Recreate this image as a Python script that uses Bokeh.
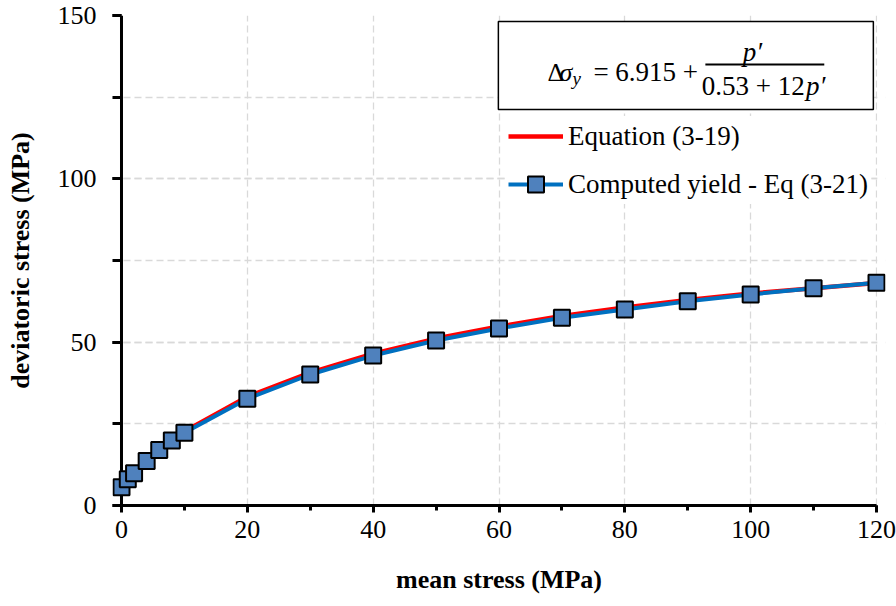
from bokeh.plotting import figure
from bokeh.models import (Range1d, SingleIntervalTicker, Legend, LegendItem,
                          BoxAnnotation, Label, Span)
from bokeh.embed import file_html
from bokeh.resources import INLINE

# ---- data ----
mean_stress = [0, 1, 2, 4, 6, 8, 10, 20, 30, 40, 50, 60, 70, 80, 90, 100, 110, 120]
equation_3_19 = [5.6, 8.1, 10.1, 13.8, 17.2, 20.2, 22.7, 33.3, 40.7, 46.5,
                 51.1, 54.8, 58.0, 60.6, 62.9, 64.9, 66.5, 68.1]
computed_yield = [5.6, 8.0, 9.9, 13.6, 17.0, 19.9, 22.3, 32.7, 40.1, 45.9,
                  50.5, 54.2, 57.5, 60.0, 62.5, 64.6, 66.5, 68.2]

x_label = "mean stress (MPa)"
y_label = "deviatoric stress (MPa)"
series_names = ["Equation (3-19)", "Computed yield - Eq (3-21)"]

SERIF = "Liberation Serif"
X_MIN, X_MAX = 0, 120
PAD = 1.43  # frame padding (data units) so end markers are not clipped

p = figure(width=896, height=606, output_backend="svg", toolbar_location=None,
           x_range=Range1d(X_MIN - PAD, X_MAX + PAD), y_range=Range1d(0, 150),
           min_border_left=112, min_border_right=11, min_border_top=15,
           min_border_bottom=101)
p.outline_line_color = None
p.background_fill_color = "white"
p.border_fill_color = "white"

# ticks
p.xaxis.ticker = SingleIntervalTicker(interval=20, num_minor_ticks=2)
p.yaxis.ticker = SingleIntervalTicker(interval=50, num_minor_ticks=2)
p.xgrid.ticker = p.xaxis[0].ticker
p.ygrid.ticker = p.yaxis[0].ticker

for ax in (p.xaxis[0], p.yaxis[0]):
    ax.axis_line_color = "black"
    ax.axis_line_width = 3
    ax.major_tick_line_color = "black"
    ax.major_tick_line_width = 3
    ax.minor_tick_line_color = "black"
    ax.minor_tick_line_width = 3
    ax.major_label_text_font = SERIF
    ax.major_label_text_font_size = "26px"
    ax.major_label_text_color = "black"
    ax.axis_label_text_font = SERIF
    ax.axis_label_text_font_size = "26px"
    ax.axis_label_text_font_style = "bold"
    ax.axis_label_text_color = "black"

# x axis
p.xaxis.bounds = (X_MIN, X_MAX)
p.xaxis.major_tick_in = 0
p.xaxis.major_tick_out = 7
p.xaxis.minor_tick_in = 0
p.xaxis.minor_tick_out = 5
p.xaxis.axis_label = x_label
p.xaxis.major_label_standoff = 8
p.xaxis.axis_label_standoff = 24

# y axis: sits at the frame edge; its ticks reach inward to the x=0 line
p.yaxis.axis_line_color = None
p.yaxis.major_tick_in = 9
p.yaxis.major_tick_out = 0
p.yaxis.minor_tick_in = 9
p.yaxis.minor_tick_out = 0
p.yaxis.axis_label = y_label
p.yaxis.major_label_standoff = 16
p.yaxis.axis_label_standoff = 20

# grid
for g in (p.xgrid[0], p.ygrid[0]):
    g.grid_line_color = "#D9D9D9"
    g.grid_line_dash = "7 4"
    g.grid_line_width = 1.3
p.ygrid.minor_grid_line_color = "#D9D9D9"
p.ygrid.minor_grid_line_dash = "7 4"
p.ygrid.minor_grid_line_width = 1.3
# blank the sliver of frame padding right of x=120
p.add_layout(BoxAnnotation(left=X_MAX + 0.13, right=X_MAX + PAD + 1, bottom=0,
                           top=150, fill_color="white", fill_alpha=1.0,
                           line_color=None, level="underlay"))
# y axis line at x=0, beneath the data markers
p.add_layout(Span(location=X_MIN, dimension="height", line_color="black",
                  line_width=3, level="underlay"))

# series
r_eq = p.line(mean_stress, equation_3_19, line_color="#FF0000", line_width=4.5)
r_cl = p.line(mean_stress, computed_yield, line_color="#0070C0", line_width=4)
r_cm = p.scatter(mean_stress, computed_yield, marker="square", size=16,
                 fill_color="#4F81BD", line_color="black", line_width=2)

legend = Legend(items=[LegendItem(label=series_names[0], renderers=[r_eq]),
                       LegendItem(label=series_names[1], renderers=[r_cl, r_cm])],
                location=(396, 301))
legend.label_text_font = SERIF
legend.label_text_font_size = "27px"
legend.label_text_color = "black"
legend.glyph_width = 55
legend.glyph_height = 40
legend.label_height = 26
legend.label_standoff = 5
legend.spacing = 8
legend.padding = 8
legend.margin = 0
legend.border_line_color = None
legend.background_fill_color = "white"
legend.background_fill_alpha = 1.0
p.add_layout(legend)

# equation box (data-unit placement)
p.add_layout(BoxAnnotation(left=59.9, right=119.5, top=148.2, bottom=121.2,
                           fill_color="white", fill_alpha=1.0,
                           line_color="black", line_width=1.5, line_alpha=1.0))

def lab(x, y, text, size="26px", style="normal", align="left"):
    p.add_layout(Label(x=x, y=y, text=text, text_font=SERIF,
                       text_font_size=size, text_font_style=style,
                       text_align=align, text_baseline="alphabetic",
                       text_color="black"))

lab(67.7, 132.6, "Δ")
lab(69.6, 132.6, "σ", style="italic")
lab(71.7, 130.8, "y", size="19px", style="italic")
lab(75.0, 132.6, "= 6.915 +", size="27px")
p.add_layout(BoxAnnotation(left=92.8, right=111.7, top=135.3, bottom=134.7,
                           fill_color="black", fill_alpha=1.0, line_color=None))
lab(100.3, 138.8, "p′", size="27px", style="italic", align="center")
lab(108.6, 128.3, "0.53 + 12", size="27px", align="right")
lab(108.8, 128.3, "p′", size="27px", style="italic")

open("out.html", "w").write(file_html(p, INLINE))
